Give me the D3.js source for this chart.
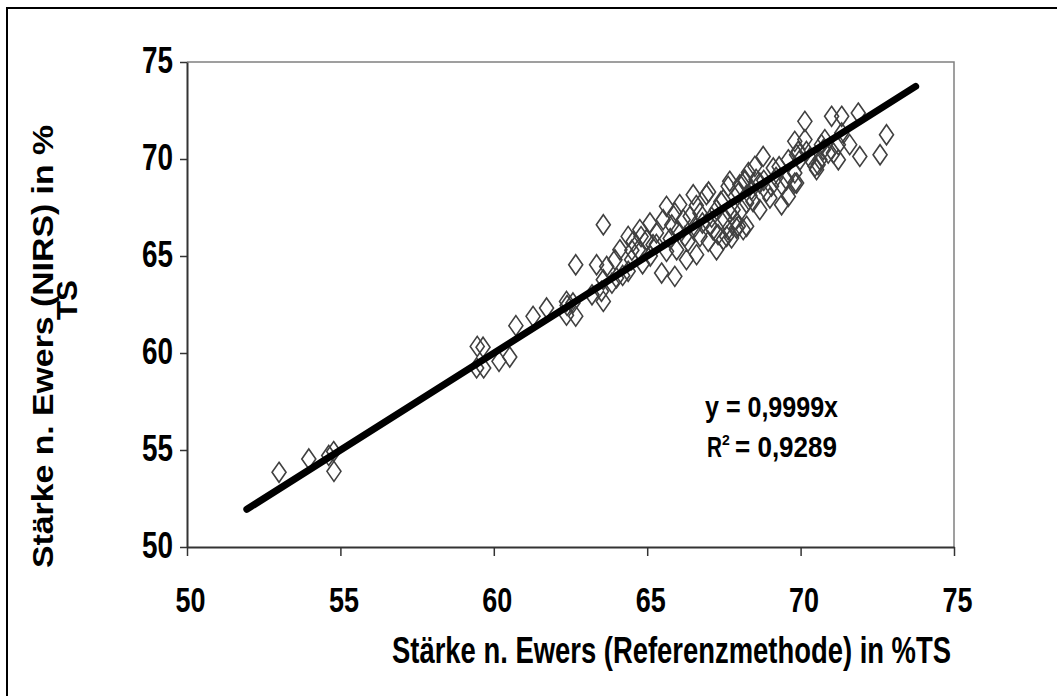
<!DOCTYPE html>
<html>
<head>
<meta charset="utf-8">
<script src="https://cdn.jsdelivr.net/npm/d3@7"></script>
<style>
  html, body { margin: 0; padding: 0; background: #fff; overflow: hidden; }
</style>
</head>
<body>
<svg id="chart" width="1057" height="696"></svg>
<script>
// ---- data ----
const xTicks = [50, 55, 60, 65, 70, 75];
const yTicks = [50, 55, 60, 65, 70, 75];

// starch content by the reference method (x) and by NIRS (y), % dry matter
const refValues = [
  53.00, 53.97, 54.62, 54.78, 54.79, 59.46, 59.65, 59.44, 59.67, 60.17,
  60.52, 60.72, 61.28, 61.72, 62.37, 62.58, 62.37, 62.67, 62.67, 63.35,
  63.57, 63.51, 63.57, 63.68, 63.57, 64.00, 63.95, 64.11, 64.38, 64.54,
  64.49, 64.38, 64.76, 64.98, 65.09, 65.30, 65.52, 65.63, 65.90, 66.06,
  66.17, 66.23, 66.33, 65.63, 65.96, 66.61, 65.47, 65.90, 66.50, 66.93,
  66.72, 66.72, 66.99, 67.04, 67.26, 67.31, 67.64, 67.64, 67.80, 67.91,
  68.02, 68.24, 68.18, 65.19, 64.71, 66.28, 67.26, 67.75, 68.13, 68.78,
  68.51, 69.11, 68.67, 69.38, 69.81, 69.87, 69.60, 69.38, 67.69, 68.18,
  67.97, 68.40, 68.89, 69.00, 68.45, 68.67, 68.08, 67.69, 67.97, 67.59,
  67.48, 67.53, 67.86, 68.24, 69.87, 70.57, 70.74, 70.52, 71.07, 70.14,
  70.14, 71.01, 71.34, 71.88, 72.80, 72.59, 71.93, 71.60, 71.23, 71.34,
  71.23, 70.68, 70.79, 70.47, 70.63, 69.81, 69.92, 70.19, 69.54, 69.81,
  69.98, 69.60, 67.48, 62.39, 63.20, 64.20, 63.85, 65.10, 64.85, 66.00,
  65.75, 66.55, 66.40, 67.10, 68.55, 69.20, 70.30, 69.05, 68.35, 67.15,
  64.50, 65.30, 66.80, 67.40, 68.80, 69.30, 70.90, 64.80, 65.80, 66.60,
  67.00, 68.30
];
const nirsValues = [
  53.85, 54.54, 54.72, 54.92, 53.90, 60.34, 60.30, 59.23, 59.23, 59.57,
  59.79, 61.41, 61.89, 62.32, 62.66, 62.58, 61.95, 61.90, 64.55, 64.55,
  66.61, 63.18, 62.66, 64.46, 63.78, 63.87, 64.81, 65.32, 66.01, 65.75,
  64.81, 64.21, 66.36, 65.84, 66.70, 66.19, 66.87, 67.56, 67.22, 67.65,
  66.87, 66.01, 65.75, 65.24, 65.32, 65.07, 64.12, 63.95, 68.16, 68.16,
  67.22, 66.01, 65.75, 66.61, 67.39, 66.10, 68.59, 66.36, 67.39, 66.44,
  68.68, 67.73, 68.93, 65.58, 65.32, 64.81, 65.32, 65.93, 66.36, 70.13,
  69.62, 69.54, 68.76, 68.68, 69.28, 68.76, 68.07, 67.64, 68.85, 68.85,
  68.25, 68.42, 68.33, 67.99, 67.81, 67.39, 67.39, 67.22, 66.53, 66.01,
  67.90, 66.87, 66.87, 66.53, 70.22, 69.71, 70.48, 69.45, 70.31, 71.00,
  71.94, 72.20, 72.20, 72.37, 71.25, 70.22, 70.13, 70.74, 69.96, 71.34,
  70.74, 70.74, 71.00, 69.62, 69.96, 70.91, 70.39, 70.39, 68.93, 68.76,
  69.96, 69.96, 65.84, 62.45, 63.00, 64.00, 63.60, 65.00, 64.60, 66.30,
  65.90, 66.50, 67.05, 67.00, 68.95, 69.05, 70.05, 68.60, 68.10, 66.35,
  65.30, 65.60, 66.70, 67.80, 68.90, 69.60, 70.30, 66.00, 66.60, 67.60,
  68.30, 69.30
];

// fitted trend line y = 0.9999x, drawn over this x range
const trendRange = [51.95, 73.75];
const trendSlope = 0.9999;

const xTitle = "Stärke n. Ewers (Referenzmethode) in %TS";
const yTitleLines = ["Stärke n. Ewers (NIRS) in %", "TS"];
const eqText = "y = 0,9999x";
const r2Text = "= 0,9289";

// ---- layout ----
const W = 1057, H = 696;
const plot = { left: 187, right: 954, top: 62, bottom: 547 };
const FONT = "'Liberation Sans', Arial, Helvetica, sans-serif";

const svg = d3.select("#chart");
const x = d3.scaleLinear().domain([50, 75]).range([plot.left, plot.right]);
const y = d3.scaleLinear().domain([50, 75]).range([plot.bottom, plot.top]);

svg.append("rect").attr("width", W).attr("height", H).attr("fill", "#fff");

// outer chart frame
svg.append("rect")
  .attr("x", 7).attr("y", 8).attr("width", W + 20).attr("height", H + 20)
  .attr("fill", "none").attr("stroke", "#000").attr("stroke-width", 2);

// plot area border (top and right edges)
svg.append("path")
  .attr("d", `M${plot.left},${plot.top}H${plot.right}V${plot.bottom}`)
  .attr("fill", "none").attr("stroke", "#808080").attr("stroke-width", 1.5);

// ---- axes ----
const xAxis = svg.append("g")
  .attr("transform", `translate(0,${plot.bottom})`)
  .call(d3.axisBottom(x).tickValues(xTicks).tickSize(9).tickSizeOuter(0));
xAxis.select(".domain").attr("stroke", "#333").attr("stroke-width", 2);
xAxis.selectAll(".tick line").attr("stroke", "#333").attr("stroke-width", 1.5);
xAxis.selectAll(".tick text")
  .attr("x", 3).attr("y", 65).attr("dy", null)
  .attr("font-family", FONT).attr("font-weight", "bold")
  .attr("font-size", 35).attr("fill", "#000")
  .attr("textLength", 30).attr("lengthAdjust", "spacingAndGlyphs");

const yAxis = svg.append("g")
  .attr("transform", `translate(${plot.left},0)`)
  .call(d3.axisLeft(y).tickValues(yTicks).tickSize(7).tickSizeOuter(0));
yAxis.select(".domain").attr("stroke", "#333").attr("stroke-width", 2);
yAxis.selectAll(".tick line").attr("stroke", "#333").attr("stroke-width", 1.5);
yAxis.selectAll(".tick text")
  .attr("x", -14).attr("y", 10.5).attr("dy", null)
  .attr("font-family", FONT).attr("font-weight", "bold")
  .attr("font-size", 36).attr("fill", "#000")
  .attr("textLength", 31).attr("lengthAdjust", "spacingAndGlyphs");

// ---- data points: open diamonds ----
const pts = refValues.map((v, i) => ({ ref: v, nirs: nirsValues[i] }));
const hw = 7, hh = 10;
svg.append("g")
  .selectAll("path")
  .data(pts)
  .join("path")
  .attr("transform", d => `translate(${x(d.ref)},${y(d.nirs)})`)
  .attr("d", `M0,${-hh}L${hw},0L0,${hh}L${-hw},0Z`)
  .attr("fill", "none")
  .attr("stroke", "#404040")
  .attr("stroke-width", 1.6);

// ---- trend line ----
const trendLine = d3.line().x(d => x(d)).y(d => y(trendSlope * d));
svg.append("path")
  .attr("d", trendLine(trendRange))
  .attr("fill", "none")
  .attr("stroke", "#000")
  .attr("stroke-width", 7)
  .attr("stroke-linecap", "round");

// ---- titles ----
function boldText(g, str, size, len) {
  return g.append("text")
    .attr("font-family", FONT).attr("font-weight", "bold")
    .attr("font-size", size).attr("fill", "#000")
    .attr("textLength", len).attr("lengthAdjust", "spacingAndGlyphs")
    .text(str);
}

boldText(svg, xTitle, 36, 559)
  .attr("x", 671.5).attr("y", 662.5).attr("text-anchor", "middle");

boldText(svg, yTitleLines[0], 29, 443)
  .attr("text-anchor", "middle")
  .attr("transform", "translate(53,346.5) rotate(-90)");
boldText(svg, yTitleLines[1], 30, 40)
  .attr("text-anchor", "middle")
  .attr("transform", "translate(77,300) rotate(-90)");

// ---- regression annotation ----
boldText(svg, eqText, 30, 133).attr("x", 705).attr("y", 417);
boldText(svg, "R", 30, 15).attr("x", 707).attr("y", 457);
svg.append("text")
  .attr("x", 722).attr("y", 445)
  .attr("font-family", FONT).attr("font-weight", "bold")
  .attr("font-size", 14).attr("fill", "#000")
  .text("2");
boldText(svg, r2Text, 30, 102).attr("x", 735).attr("y", 457);
</script>
</body>
</html>
